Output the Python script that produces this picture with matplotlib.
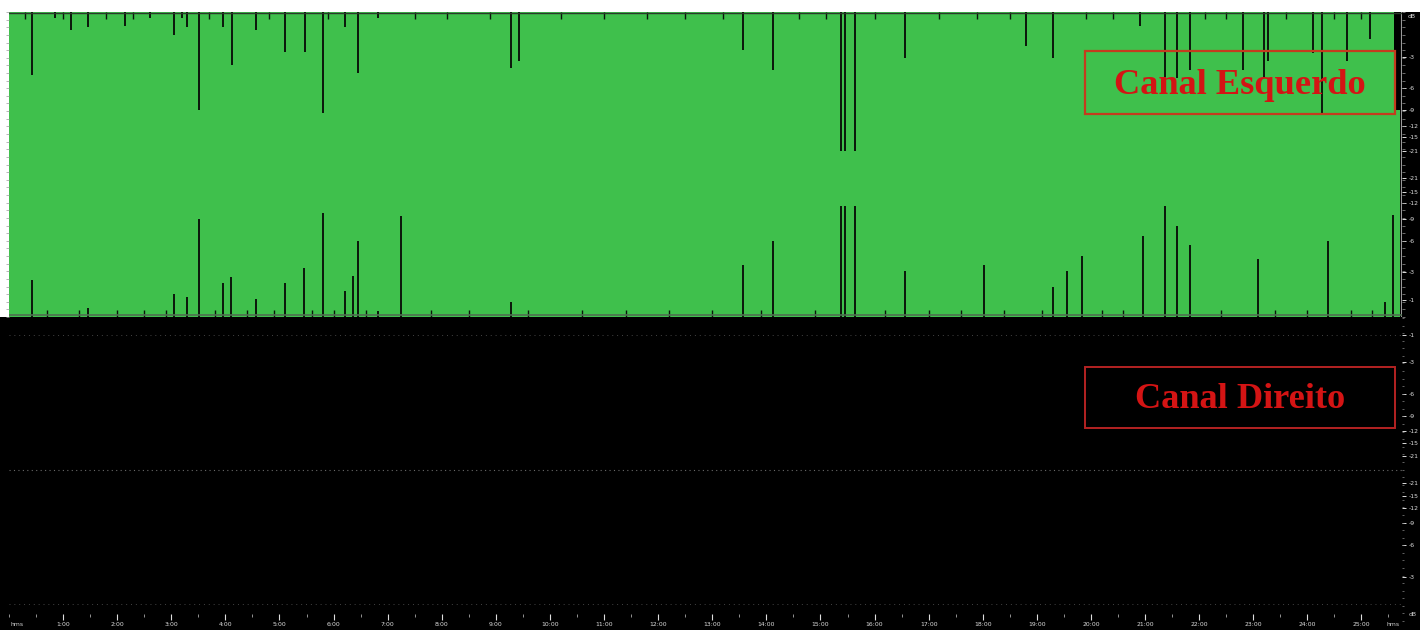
import matplotlib
matplotlib.use("Agg")
import matplotlib.pyplot as plt
from matplotlib.patches import Rectangle
from matplotlib.ticker import MultipleLocator
import numpy as np

W, H = 1420, 630

# ---------------- data ----------------
# duration (minutes)
t_full_end = 25.60
t_tail_end = 25.71
tail_hi, tail_lo = 0.355, -1.0
x_max = 25.75

# left channel: dips of the upper envelope (time in minutes, remaining peak amplitude)
top_dip_t = [0.43, 0.85, 1.15, 1.46, 2.14, 2.61, 3.05, 3.20, 3.29, 3.51, 3.96, 4.12,
             4.57, 5.10, 5.47, 5.80, 6.21, 6.45, 6.82,
             9.28, 9.43, 13.57, 14.12, 15.38, 15.45, 15.64, 16.56, 18.80, 19.30,
             20.91, 21.37, 21.59, 21.83, 22.81, 23.20, 23.27, 24.10, 24.27, 24.73, 25.16]
top_dip_amp = [0.59, 0.96, 0.88, 0.90, 0.91, 0.96, 0.85, 0.96, 0.90, 0.36, 0.90, 0.65,
               0.88, 0.74, 0.74, 0.34, 0.90, 0.60, 0.96,
               0.63, 0.68, 0.75, 0.62, 0.09, 0.09, 0.09, 0.70, 0.78, 0.70,
               0.91, 0.57, 0.57, 0.62, 0.62, 0.57, 0.68, 0.73, 0.34, 0.68, 0.82]

# left channel: dips of the lower envelope (time, remaining trough amplitude)
bot_dip_t = [0.43, 1.46, 3.05, 3.29, 3.51, 3.96, 4.10, 4.57, 5.10, 5.45, 5.80, 6.21,
             6.36, 6.45, 6.82, 7.25,
             9.28, 13.57, 14.12, 15.38, 15.45, 15.64, 16.56, 18.02, 19.30, 19.56, 19.83,
             20.96, 21.37, 21.59, 21.83, 23.09, 24.38, 25.43, 25.59]
bot_dip_amp = [-0.76, -0.94, -0.85, -0.87, -0.36, -0.78, -0.74, -0.88, -0.78, -0.68, -0.32, -0.83,
               -0.73, -0.50, -0.96, -0.34,
               -0.90, -0.66, -0.50, -0.27, -0.27, -0.27, -0.70, -0.66, -0.80, -0.70, -0.60,
               -0.47, -0.27, -0.40, -0.53, -0.62, -0.50, -0.90, -0.33]

# small edge dips (texture along the clipped edges)
small_top_t = [0.30, 1.00, 1.80, 2.30, 3.70, 4.80, 5.90, 7.50, 8.10, 8.90, 10.20, 11.00,
               11.80, 12.50, 13.20, 14.60, 15.10, 16.00, 17.20, 17.90, 18.50, 19.90,
               20.40, 22.10, 22.50, 23.60, 24.50, 25.00]
small_bot_t = [0.70, 1.30, 2.00, 2.50, 2.90, 3.80, 4.40, 4.90, 5.60, 6.00, 6.60, 7.80,
               8.50, 9.60, 10.60, 11.40, 12.20, 13.00, 13.90, 14.90, 16.20, 17.00,
               17.60, 18.40, 19.10, 20.20, 20.60, 22.40, 23.40, 24.00, 24.80, 25.20]
small_amp = 0.955

# time axis labels
minute_ticks = list(range(1, 26))
minute_labels = [f"{m}:00" for m in minute_ticks]

# dB scale
db_levels = [-3, -6, -9, -12, -15, -21]

# ---------------- figure ----------------
fig = plt.figure(figsize=(W / 100, H / 100), dpi=100, facecolor="white")


def box(x0, y0, x1, y1):
    return [x0 / W, 1 - y1 / H, (x1 - x0) / W, (y1 - y0) / H]


def clean(ax):
    for s in ax.spines.values():
        s.set_visible(False)


# black backgrounds
bg1 = fig.add_axes(box(0, 317, W, H))
bg1.set_facecolor("black"); bg1.set_xticks([]); bg1.set_yticks([]); clean(bg1)
bg2 = fig.add_axes(box(1395, 12, W, 318))
bg2.set_facecolor("black"); bg2.set_xticks([]); bg2.set_yticks([]); clean(bg2)

green = "#3fc04c"
dark = "#0b160b"

# ---------- left channel ----------
axL = fig.add_axes(box(9, 12, 1402, 317))
axL.set_facecolor("black")
axL.fill_between([0, t_full_end], [-1, -1], [1, 1], color=green, lw=0)
axL.fill_between([t_full_end, t_tail_end], [tail_lo, tail_lo], [tail_hi, tail_hi],
                 color=green, lw=0)
axL.vlines(top_dip_t, top_dip_amp, 1.0, color=dark, lw=1.4)
axL.vlines(bot_dip_t, -1.0, bot_dip_amp, color=dark, lw=1.4)
axL.vlines(small_top_t, small_amp, 1.0, color=dark, lw=1.0)
axL.vlines(small_bot_t, -1.0, -small_amp, color=dark, lw=1.0)
axL.axvline(x_max - 0.02, color="#999999", lw=0.8)
axL.axhline(0.995, color="#2a3a2a", lw=1.0)
axL.axhline(-0.985, color="#4f6f52", lw=1.2)
axL.set_xlim(0, x_max)
axL.set_ylim(-1, 1)
axL.set_xticks([])
clean(axL)

# ---------- right channel ----------
axR = fig.add_axes(box(9, 318, 1402, 621))
axR.set_facecolor("none")
axR.set_xlim(0, x_max)
axR.set_ylim(-1, 1)
axR.axhline(0.0, color="#6a6a6a", lw=0.8, ls=(0, (1, 3)))
for yv in (0.891, -0.891):
    axR.axhline(yv, color="#444444", lw=0.7, ls=(0, (1, 4)))
axR.set_xticks([])
clean(axR)

# time axis
axT = fig.add_axes(box(9, 318, 1402, 614))
axT.set_facecolor("none")
axT.set_xlim(0, x_max)
axT.set_yticks([])
clean(axT)
axT.set_xticks(minute_ticks)
axT.set_xticklabels(minute_labels)
axT.xaxis.set_minor_locator(MultipleLocator(0.5))
axT.tick_params(axis="x", which="major", colors="#dddddd", labelsize=4.4,
                length=4, width=0.8, pad=1.5, direction="out")
axT.tick_params(axis="x", which="minor", colors="#aaaaaa", length=2, width=0.6,
                direction="out")
fig.text(17 / W, 1 - 625 / H, "hms", color="#cccccc", fontsize=4.4, ha="center", va="center")
fig.text(1393 / W, 1 - 625 / H, "hms", color="#cccccc", fontsize=4.4, ha="center", va="center")
fig.text(1413 / W, 1 - 614 / H, "dB", color="#cccccc", fontsize=4.4, ha="center", va="center")

# dB scales on the right
yt = [10 ** (d / 20) for d in db_levels] + [-(10 ** (d / 20)) for d in db_levels]
yl = [str(d) for d in db_levels] * 2
for ax, extra in ((axL, [(-0.891, "-1")]), (axR, [(0.891, "-1")])):
    ax.yaxis.tick_right()
    ticks = yt + [e[0] for e in extra]
    labels = yl + [e[1] for e in extra]
    ax.set_yticks(ticks)
    ax.set_yticklabels(labels)
    ax.yaxis.set_minor_locator(MultipleLocator(0.05))
    ax.tick_params(axis="y", which="major", colors="#dddddd", labelsize=4.4,
                   length=3, width=0.7, pad=2)
    ax.tick_params(axis="y", which="minor", colors="#888888", length=1.5, width=0.5)
axL.tick_params(axis="y", which="minor", left=True, colors="#9a9a9a", length=2, width=0.5)
fig.text(1412 / W, 1 - 16 / H, "dB", color="#dddddd", fontsize=4.4, ha="center", va="center")

# ---------- channel label boxes ----------
fig.add_artist(Rectangle((1085 / W, 1 - 114 / H), 310 / W, 63 / H, transform=fig.transFigure,
                         fill=False, ec="#c43c1e", lw=1.6))
fig.text(1240 / W, 1 - 85 / H, "Canal Esquerdo", color="#d41414", fontsize=26.2,
         fontweight="bold", family="Liberation Serif", ha="center", va="center")
fig.add_artist(Rectangle((1085 / W, 1 - 428 / H), 310 / W, 61 / H, transform=fig.transFigure,
                         fill=False, ec="#b42222", lw=1.4))
fig.text(1240 / W, 1 - 399 / H, "Canal Direito", color="#d41414", fontsize=26.2,
         fontweight="bold", family="Liberation Serif", ha="center", va="center")

fig.savefig("out.png", dpi=100, facecolor="white")
